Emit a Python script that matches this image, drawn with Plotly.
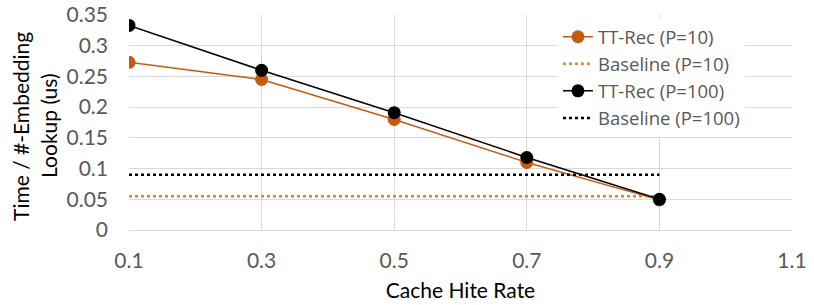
import plotly.graph_objects as go

x_vals = [0.1, 0.3, 0.5, 0.7, 0.9]
tt_rec_p10 = [0.273, 0.245, 0.180, 0.110, 0.049]
tt_rec_p100 = [0.333, 0.260, 0.191, 0.118, 0.050]
baseline_p10 = [0.055, 0.055, 0.055, 0.055, 0.055]
baseline_p100 = [0.090, 0.090, 0.090, 0.090, 0.090]
x_ticks = [0.1, 0.3, 0.5, 0.7, 0.9, 1.1]
y_ticks = [0, 0.05, 0.1, 0.15, 0.2, 0.25, 0.3, 0.35]
y_title_lines = ["Time / #-Embedding", "Lookup (us)"]

FONT = "Lato"
FS = 21
fig = go.Figure()
fig.add_trace(go.Scatter(x=x_vals, y=tt_rec_p10, name="TT-Rec (P=10)", mode="lines+markers",
                         line=dict(color="#C55A11", width=1.5),
                         marker=dict(color="#C55A11", size=13)))
fig.add_trace(go.Scatter(x=x_vals, y=baseline_p10, name="Baseline (P=10)", mode="lines",
                         line=dict(color="#ED7D31", width=2.5, dash="dot")))
fig.add_trace(go.Scatter(x=x_vals, y=tt_rec_p100, name="TT-Rec (P=100)", mode="lines+markers",
                         line=dict(color="#000000", width=1.5),
                         marker=dict(color="#000000", size=13)))
fig.add_trace(go.Scatter(x=x_vals, y=baseline_p100, name="Baseline (P=100)", mode="lines",
                         line=dict(color="#000000", width=2.5, dash="dot")))

fig.update_layout(
    width=814, height=305,
    margin=dict(l=129, r=22, t=15, b=75),
    paper_bgcolor="white", plot_bgcolor="white",
    font=dict(family=FONT, size=FS, color="#595959"),
    showlegend=True,
    legend=dict(x=0.647, y=0.985, xanchor="left", yanchor="top",
                bgcolor="white", font=dict(family="Open Sans", size=18.5, color="#595959"),
                tracegroupgap=0, itemwidth=30),
)
for i, (txt, xp) in enumerate(zip(y_title_lines, [-0.1629, -0.1207])):
    fig.add_annotation(text=txt, xref="paper", yref="paper", x=xp, y=0.484,
                       xanchor="center", yanchor="middle", textangle=-90, showarrow=False,
                       font=dict(family=FONT, size=FS, color="#000000"))
fig.update_xaxes(range=[0.1, 1.1], tickvals=x_ticks, ticktext=[str(v) for v in x_ticks],
                 showgrid=True, gridcolor="#D9D9D9", gridwidth=1,
                 showline=True, linecolor="#D9D9D9", linewidth=1,
                 zeroline=False, ticks="", ticklabelstandoff=12, automargin=False,
                 title=dict(text="Cache Hite Rate", font=dict(size=FS, color="#000000"), standoff=12))
fig.update_yaxes(range=[0, 0.35], tickvals=y_ticks, ticktext=["0", "0.05", "0.1", "0.15", "0.2", "0.25", "0.3", "0.35"],
                 showgrid=True, gridcolor="#D9D9D9", gridwidth=1,
                 showline=False, zeroline=False, ticks="", ticklabelstandoff=20, automargin=False)

fig.write_html("out.html", config={"displayModeBar": False},
               post_script="document.body.style.margin='0';")
